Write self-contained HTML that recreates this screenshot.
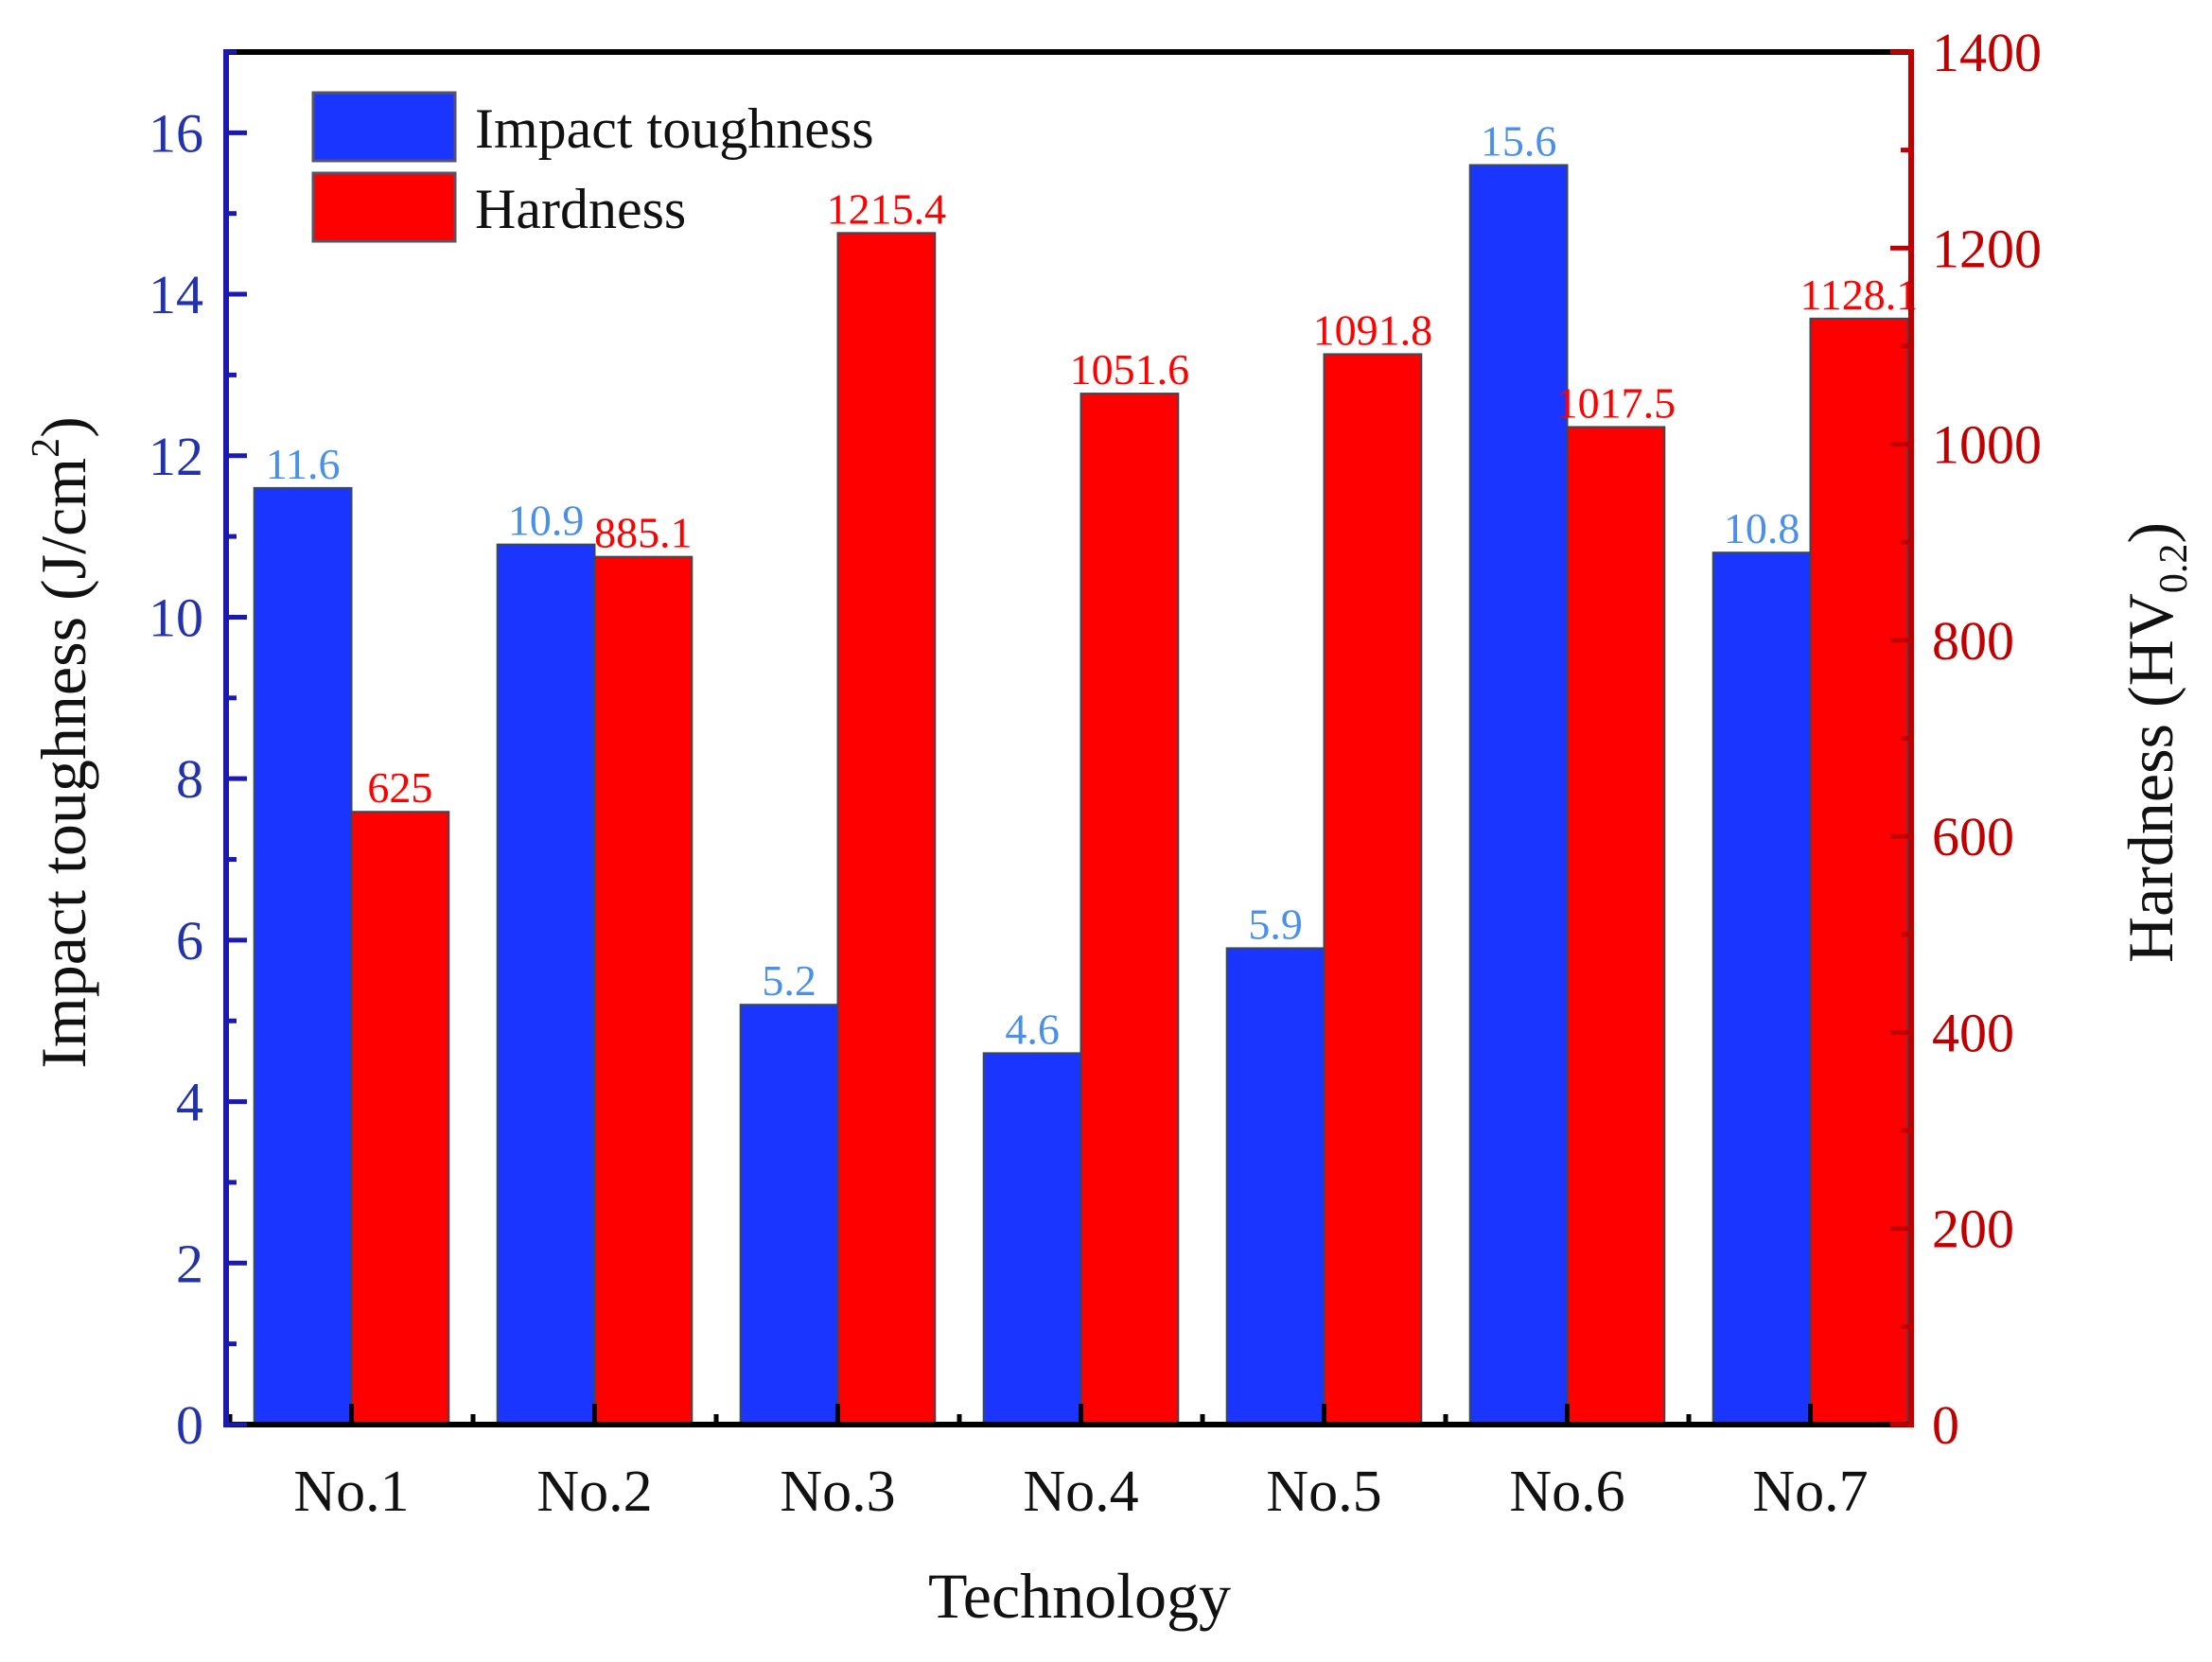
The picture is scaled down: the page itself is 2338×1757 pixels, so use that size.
<!DOCTYPE html>
<html><head><meta charset="utf-8"><style>
html,body{margin:0;padding:0;background:#fff}
svg{display:block;font-family:"Liberation Serif",serif}
</style></head><body>
<svg id="chart" width="2338" height="1757" viewBox="0 0 2338 1757" xmlns="http://www.w3.org/2000/svg">
<g id="bars"></g><g id="axes"></g>
<text x="1141" y="1710" font-size="68" text-anchor="middle" fill="#111">Technology</text>
<text transform="translate(90,785) rotate(-90)" font-size="68" text-anchor="middle" fill="#111">Impact toughness (J/cm<tspan font-size="42" dy="-28">2</tspan><tspan dy="28">)</tspan></text>
<text transform="translate(2296,785) rotate(-90)" font-size="68" text-anchor="middle" fill="#111">Hardness (HV<tspan font-size="42" dy="15">0.2</tspan><tspan dy="-15">)</tspan></text>
<g>
<rect x="331" y="98" width="150" height="72" fill="#1a35ff" stroke="#556" stroke-width="3"/>
<text x="502" y="156" font-size="60" fill="#111">Impact toughness</text>
<rect x="331" y="183" width="150" height="72" fill="#ff0000" stroke="#556" stroke-width="3"/>
<text x="502" y="241" font-size="60" fill="#111">Hardness</text>
</g>
</svg>
<script>
const categories=["No.1","No.2","No.3","No.4","No.5","No.6","No.7"];
const impactValues=[11.6,10.9,5.2,4.6,5.9,15.6,10.8];
const hardnessValues=[625,885.1,1215.4,1051.6,1091.8,1017.5,1128.1];
const impactLabels=["11.6","10.9","5.2","4.6","5.9","15.6","10.8"];
const hardnessLabels=["625","885.1","1215.4","1051.6","1091.8","1017.5","1128.1"];
const leftTicks=[0,2,4,6,8,10,12,14,16];
const rightTicks=[0,200,400,600,800,1000,1200,1400];

const L=239,R=2020,T=55,B=1506,LMAX=17,RMAX=1400;
const NS="http://www.w3.org/2000/svg";
const yL=v=>B-(v/LMAX)*(B-T);
const yR=v=>B-(v/RMAX)*(B-T);
const band=(R-L)/6.93;
const x0=L+4;
const xC=i=>x0+band*(i+0.5);
const bw=band*0.4;
function mk(tag,attrs,parent){const e=document.createElementNS(NS,tag);for(const k in attrs)e.setAttribute(k,attrs[k]);parent.appendChild(e);return e;}
const gb=document.getElementById('bars'),ga=document.getElementById('axes');
categories.forEach((c,i)=>{
  const cx=xC(i);
  let b=mk('rect',{x:cx-bw,y:yL(impactValues[i]),width:bw,height:B-yL(impactValues[i]),fill:'#1a35ff',stroke:'#3a4a55','stroke-width':2},gb);
  
  
  let r=mk('rect',{x:cx,y:yR(hardnessValues[i]),width:bw,height:B-yR(hardnessValues[i]),fill:'#ff0000',stroke:'#3a4a55','stroke-width':2},gb);
  
  
  let t=mk('text',{x:cx-bw/2,y:yL(impactValues[i])-10,'font-size':46,'text-anchor':'middle',fill:'#4a8fe8'},gb);
  t.textContent=impactLabels[i];
  
  
  let t2=mk('text',{x:cx+bw/2,y:yR(hardnessValues[i])-10,'font-size':46,'text-anchor':'middle',fill:'#ff0000'},gb);
  t2.textContent=hardnessLabels[i];
  
  
  let cl=mk('text',{x:cx,y:1597,'font-size':62,'text-anchor':'middle',fill:'#111'},ga);
  cl.textContent=c;
  
  
  mk('line',{x1:cx,x2:cx,y1:B,y2:B-22,stroke:'#000','stroke-width':5},ga);
  mk('line',{x1:x0+band*i,x2:x0+band*i,y1:B,y2:B-11,stroke:'#000','stroke-width':5},ga);
});
mk('line',{x1:L,x2:R,y1:T,y2:T,stroke:'#000','stroke-width':6},ga);
mk('line',{x1:L,x2:R,y1:B,y2:B,stroke:'#000','stroke-width':6},ga);
mk('line',{x1:L,x2:L,y1:T-3,y2:B+3,stroke:'#1a1ab0','stroke-width':6},ga);
mk('line',{x1:R,x2:R,y1:T-3,y2:B+3,stroke:'#c00000','stroke-width':6},ga);
leftTicks.forEach(v=>{
  const y=yL(v);
  mk('line',{x1:L,x2:L+22,y1:y,y2:y,stroke:'#1a1ab0','stroke-width':5},ga);
  mk('line',{x1:L,x2:L+11,y1:yL(v+1),y2:yL(v+1),stroke:'#1a1ab0','stroke-width':5},ga);
  let t=mk('text',{x:L-24,y:y+20,'font-size':58,'text-anchor':'end',fill:'#2233aa'},ga);
  t.textContent=v;
  
  
});
rightTicks.forEach(v=>{
  const y=yR(v);
  mk('line',{x1:R,x2:R-22,y1:y,y2:y,stroke:'#c00000','stroke-width':5},ga);
  if(v<RMAX) mk('line',{x1:R,x2:R-11,y1:yR(v+100),y2:yR(v+100),stroke:'#c00000','stroke-width':5},ga);
  let t=mk('text',{x:R+22,y:y+20,'font-size':58,'text-anchor':'start',fill:'#c00000'},ga);
  t.textContent=v;
  
  
});
</script>
</body></html>
